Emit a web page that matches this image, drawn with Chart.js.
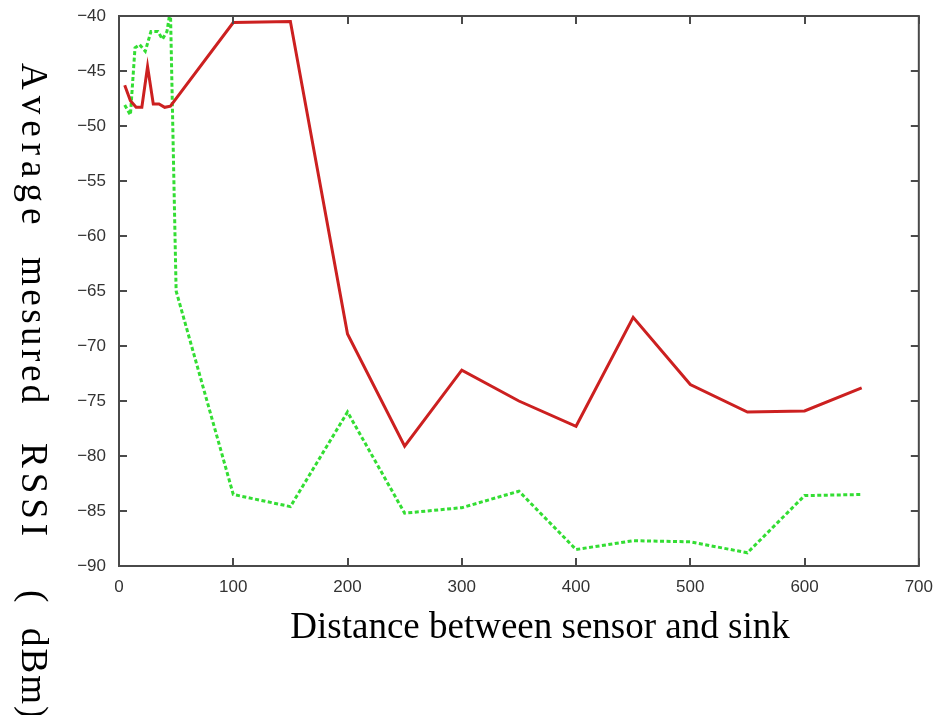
<!DOCTYPE html>
<html>
<head>
<meta charset="utf-8">
<script src="https://cdn.jsdelivr.net/npm/chart.js@4.4.1/dist/chart.umd.min.js"></script>
<style>
	html, body { margin: 0; padding: 0; background: #fff; }
	canvas { display: block; }
</style>
</head>
<body>
<canvas id="rssi" width="936" height="715"></canvas>
<script>
	const distRed = [5, 10, 15, 20, 25, 30, 35, 40, 45, 100, 150, 200, 250, 300, 350, 400, 450, 500, 550, 600, 650];
	const rssiRed = [-46.3, -47.7, -48.3, -48.3, -44.6, -48, -48, -48.3, -48.2, -40.6, -40.5, -68.9, -79.1, -72.2, -75, -77.3, -67.4, -73.5, -76, -75.9, -73.8];

	const distGreen = [5, 10, 14, 18, 23, 28, 34, 38, 42, 45, 50, 100, 150, 200, 250, 300, 350, 400, 450, 500, 550, 600, 650];
	const rssiGreen = [-48.1, -49, -42.9, -42.6, -43.2, -41.4, -41.4, -42.1, -41.4, -39.4, -65, -83.5, -84.6, -76, -85.2, -84.7, -83.2, -88.5, -87.7, -87.8, -88.8, -83.6, -83.5];

	const xTitle = "Distance between sensor and sink";
	// palavras do titulo vertical: [texto, inicio em y, espacamento]
	const yTitle = [["Average", 63, 6], ["mesured", 257, 3.5], ["RSSI", 443, 5], ["(", 590, 0], ["dBm)", 628, 2]];

	const pontos = (xs, ys) => xs.map((x, i) => ({ x: x, y: ys[i] }));

	// fundo branco, moldura, ticks para dentro e titulos
	const molduraPlugin = {
		id: 'moldura',
		beforeDraw: (chart) => {
			const ctx = chart.ctx;
			ctx.save();
			ctx.fillStyle = '#fff';
			ctx.fillRect(0, 0, chart.width, chart.height);
			ctx.restore();
		},
		afterDraw: (chart) => {
			const ctx = chart.ctx;
			const a = chart.chartArea;
			const xs = chart.scales.x;
			const ys = chart.scales.y;
			const len = 8;

			ctx.save();
			ctx.strokeStyle = '#4a4a4a';
			ctx.lineWidth = 2;
			ctx.strokeRect(a.left, a.top, a.right - a.left, a.bottom - a.top);

			ctx.beginPath();
			xs.ticks.forEach((t) => {
				const px = Math.round(xs.getPixelForValue(t.value));
				ctx.moveTo(px, a.bottom);
				ctx.lineTo(px, a.bottom - len);
				ctx.moveTo(px, a.top);
				ctx.lineTo(px, a.top + len);
			});
			ys.ticks.forEach((t) => {
				const py = Math.round(ys.getPixelForValue(t.value));
				ctx.moveTo(a.left, py);
				ctx.lineTo(a.left + len, py);
				ctx.moveTo(a.right, py);
				ctx.lineTo(a.right - len, py);
			});
			ctx.stroke();
			ctx.restore();

			// titulo do eixo y, girado no sentido horario
			ctx.save();
			ctx.fillStyle = '#000';
			ctx.font = '37px "Liberation Serif", "Times New Roman", serif';
			ctx.textBaseline = 'alphabetic';
			ctx.translate(22, 0);
			ctx.rotate(Math.PI / 2);
			yTitle.forEach(([palavra, inicio, esp]) => {
				let pos = inicio;
				for (const ch of palavra) {
					ctx.fillText(ch, pos, 0);
					pos += ctx.measureText(ch).width + esp;
				}
			});
			ctx.restore();

			ctx.save();
			ctx.fillStyle = '#000';
			ctx.font = '37px "Liberation Serif", "Times New Roman", serif';
			ctx.textAlign = 'center';
			ctx.textBaseline = 'alphabetic';
			ctx.fillText(xTitle, 540, 638);
			ctx.restore();
		}
	};

	new Chart("rssi", {
		type: "line",
		data: {
			datasets: [{
				data: pontos(distRed, rssiRed),
				borderColor: "#cc2020",
				borderWidth: 3,
				pointRadius: 0,
				tension: 0,
				fill: false
			}, {
				data: pontos(distGreen, rssiGreen),
				borderColor: "#33dd33",
				borderWidth: 3,
				borderDash: [4, 2.5],
				pointRadius: 0,
				tension: 0,
				fill: false
			}]
		},
		options: {
			responsive: false,
			animation: false,
			layout: {
				padding: { top: 16, right: 17, left: 0, bottom: 109 }
			},
			plugins: {
				legend: { display: false },
				tooltip: { enabled: false }
			},
			scales: {
				x: {
					type: 'linear',
					min: 0,
					max: 700,
					afterFit: (scale) => { scale.height = 40; },
					grid: { display: false },
					border: { display: false },
					ticks: {
						stepSize: 100,
						autoSkip: false,
						maxRotation: 0,
						padding: 3,
						color: '#333',
						font: { family: '"Liberation Sans", Arial, sans-serif', size: 17 }
					}
				},
				y: {
					type: 'linear',
					min: -90,
					max: -40,
					afterFit: (scale) => { scale.width = 119; },
					grid: { display: false },
					border: { display: false },
					ticks: {
						stepSize: 5,
						autoSkip: false,
						padding: 5,
						color: '#333',
						font: { family: '"Liberation Sans", Arial, sans-serif', size: 17 },
						callback: (v) => String(v).replace('-', '\u2212')
					}
				}
			}
		},
		plugins: [molduraPlugin]
	});
</script>
</body>
</html>
